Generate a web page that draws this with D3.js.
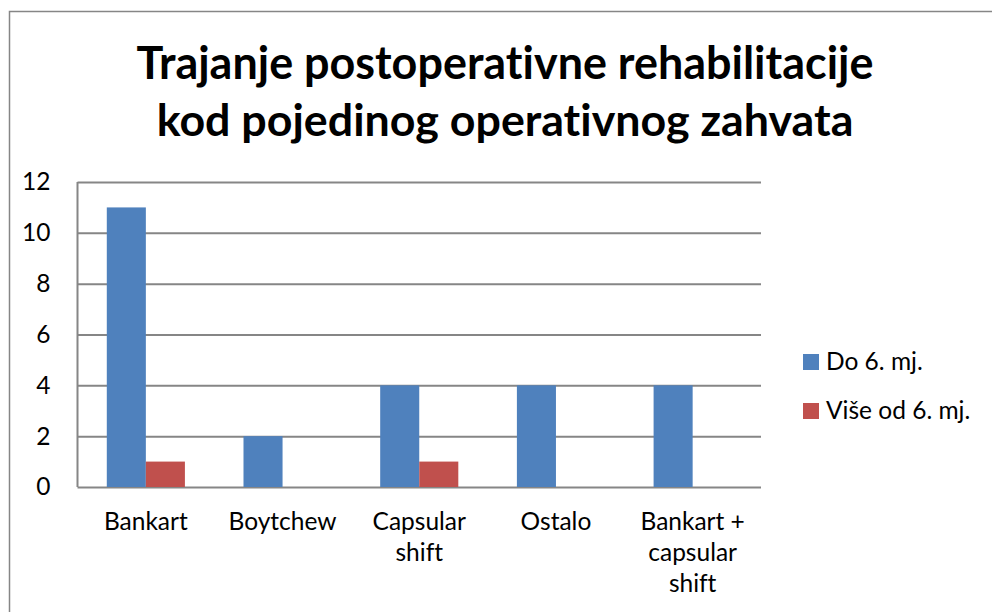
<!DOCTYPE html>
<html>
<head>
<meta charset="utf-8">
<script src="https://cdn.jsdelivr.net/npm/d3@7"></script>
<style>
  body { margin: 0; background: #fff; }
  svg { display: block; font-family: Lato, "Open Sans", sans-serif; font-variant-ligatures: none; }
</style>
</head>
<body>
<div id="chart"></div>
<script>
const titleLines = ['Trajanje postoperativne rehabilitacije', 'kod pojedinog operativnog zahvata'];
const categories = ['Bankart', 'Boytchew', 'Capsular shift', 'Ostalo', 'Bankart + capsular shift'];
const categoryLines = [['Bankart'], ['Boytchew'], ['Capsular', 'shift'], ['Ostalo'], ['Bankart +', 'capsular', 'shift']];
const seriesNames = ['Do 6. mj.', 'Više od 6. mj.'];
const seriesColors = ['#4f81bd', '#c0504d'];
const doSest = [11, 2, 4, 4, 4];
const viseOdSest = [1, 0, 1, 0, 0];
const yTicks = [0, 2, 4, 6, 8, 10, 12];

const width = 992;
const height = 612;
const plot = { left: 77.5, right: 761, top: 182, bottom: 487 };
const grey = '#868686';

const svg = d3.select('#chart').append('svg')
  .attr('width', width)
  .attr('height', height);

// outer chart frame (only top and left edges are visible in the crop)
svg.append('path')
  .attr('d', `M9.5,${height} V11.5 H${width}`)
  .attr('fill', 'none')
  .attr('stroke', grey)
  .attr('stroke-width', 1.5);

// title, two lines, fitted to the reference width
const title = svg.append('g').attr('font-weight', 700).attr('fill', '#000');
const titleWidths = [737, 697];
titleLines.forEach((line, i) => {
  const t = title.append('text')
    .attr('x', 505)
    .attr('y', 79 + i * 57)
    .attr('text-anchor', 'middle')
    .attr('font-size', 44)
    .text(line);
  const w = t.node().getComputedTextLength();
  t.attr('font-size', 44 * titleWidths[i] / w);
});

const x = d3.scaleBand().domain(categories).range([plot.left, plot.right]);
const xs = d3.scaleBand().domain(seriesNames).range([0, x.bandwidth()]).paddingInner(0).paddingOuter(0.75);
const y = d3.scaleLinear().domain([0, 12]).range([plot.bottom, plot.top]);

// gridlines + y labels
const yAxis = svg.append('g')
  .attr('transform', `translate(${plot.left},0)`)
  .call(d3.axisLeft(y).tickValues(yTicks).tickSize(-(plot.right - plot.left)).tickSizeOuter(0).tickPadding(27));
yAxis.select('.domain').remove();
yAxis.selectAll('.tick line').attr('stroke', grey).attr('stroke-width', 2);
yAxis.selectAll('.tick text')
  .attr('font-size', 24.5)
  .attr('font-family', 'Lato, sans-serif')
  .attr('fill', '#000');

// left axis line
svg.append('line')
  .attr('x1', plot.left).attr('x2', plot.left)
  .attr('y1', plot.top).attr('y2', plot.bottom)
  .attr('stroke', grey).attr('stroke-width', 2);

const series = [doSest, viseOdSest];
series.forEach((vals, s) => {
  svg.append('g').selectAll('rect')
    .data(vals)
    .join('rect')
    .attr('x', (d, i) => x(categories[i]) + xs(seriesNames[s]))
    .attr('y', d => y(d))
    .attr('width', xs.bandwidth())
    .attr('height', d => y(0) - y(d))
    .attr('fill', seriesColors[s]);
});

// category labels
const xl = svg.append('g').attr('font-size', 24.5).attr('fill', '#000').attr('text-anchor', 'middle');
categories.forEach((c, i) => {
  const t = xl.append('text').attr('x', x(c) + x.bandwidth() / 2).attr('y', 530);
  categoryLines[i].forEach((ln, j) => {
    t.append('tspan').attr('x', x(c) + x.bandwidth() / 2).attr('y', 530 + j * 31).text(ln);
  });
});

// legend
const legend = svg.append('g').attr('transform', 'translate(803,354)');
seriesNames.forEach((n, i) => {
  const g = legend.append('g').attr('transform', `translate(0,${i * 49})`);
  g.append('rect').attr('width', 16).attr('height', 16).attr('fill', seriesColors[i]);
  g.append('text').attr('x', 23).attr('y', 16).attr('font-size', 24.5).attr('fill', '#000').text(n);
});
</script>
</body>
</html>
